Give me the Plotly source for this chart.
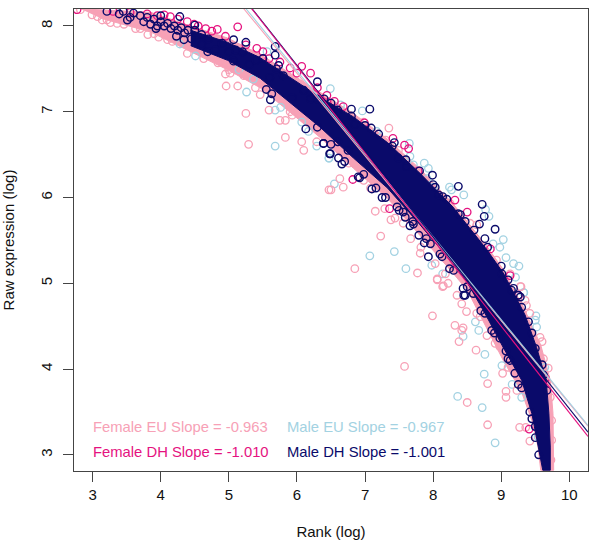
import numpy as np
import plotly.graph_objects as go

PINK = "#F7A1B6"
BLUE = "#A3D2E2"
MAGENTA = "#E5127F"
NAVY = "#0A0A6A"

x_ticks = [3, 4, 5, 6, 7, 8, 9, 10]
y_ticks = [3, 4, 5, 6, 7, 8]
x_range = [2.726, 10.274]
y_range = [2.811, 8.198]

# slopes and intercepts of the fitted lines
slope_labels = ["Female EU Slope = -0.963", "Male EU Slope = -0.967",
                "Female DH Slope = -1.010", "Male DH Slope = -1.001"]
slopes = {"feu": -0.963, "meu": -0.967, "fdh": -1.010, "mdh": -1.001}
intercepts = {"feu": 13.227, "meu": 13.279, "fdh": 13.59, "mdh": 13.547}

# dense band edges
navy_up_x = [4.44, 4.98, 5.46, 5.95, 6.34, 6.83, 7.33, 7.81, 8.29, 8.79, 9.03, 9.35, 9.52, 9.66, 9.70, 9.72, 9.72]
navy_up_y = [7.95, 7.81, 7.63, 7.37, 7.17, 6.94, 6.64, 6.28, 5.89, 5.39, 5.12, 4.63, 4.25, 3.87, 3.48, 3.09, 2.82]
navy_lo_x = [4.44, 4.98, 5.46, 5.95, 6.34, 6.83, 7.33, 7.81, 8.29, 8.50, 8.76, 9.03, 9.30, 9.45, 9.54, 9.61]
navy_lo_y = [7.77, 7.60, 7.39, 7.07, 6.82, 6.46, 6.11, 5.68, 5.23, 5.01, 4.65, 4.25, 3.87, 3.48, 3.09, 2.82]
pink_up_x = [2.82, 3.85, 4.44, 4.98, 5.46, 5.95, 6.34, 6.83, 7.33, 7.81, 8.29, 8.79, 9.03, 9.35, 9.58, 9.72, 9.76, 9.77, 9.77]
pink_up_y = [8.20, 8.16, 8.00, 7.86, 7.67, 7.42, 7.22, 6.98, 6.68, 6.33, 5.93, 5.43, 5.16, 4.68, 4.28, 3.87, 3.48, 3.09, 2.82]
pink_lo_x = [3.12, 3.85, 4.44, 4.98, 5.46, 5.95, 6.34, 6.83, 7.33, 7.81, 8.29, 8.50, 8.76, 9.03, 9.30, 9.45, 9.54, 9.58]
pink_lo_y = [8.09, 7.93, 7.70, 7.49, 7.28, 6.96, 6.70, 6.34, 5.99, 5.56, 5.12, 4.92, 4.51, 4.10, 3.73, 3.40, 3.09, 2.82]

# individual points
feu_x = [4.96, 5.13, 4.95, 5.02, 5.25, 5.29, 5.59, 5.75, 5.83, 5.83, 6.07, 6.10, 5.46, 5.39, 4.39, 3.81, 3.63, 3.26, 3.14, 2.99, 2.82, 6.47, 6.29, 5.90, 5.93, 4.84, 5.00, 5.22, 4.10, 3.97, 4.17, 3.36, 3.46, 3.07, 3.21, 3.70, 3.90, 4.63, 4.73, 4.93,
         7.35, 6.63, 6.50, 6.68, 7.15, 7.23, 6.85, 7.77, 7.38, 7.44, 7.29, 8.06, 8.14, 8.22, 7.81, 7.67, 7.82, 8.03, 8.18, 8.35, 9.28, 7.08, 6.98, 6.76, 6.42, 6.56, 7.56, 9.13, 8.93, 8.64, 8.54, 8.25, 7.81, 7.49, 7.30, 6.98,
         7.99, 7.58, 8.32, 8.44, 8.42, 8.38, 8.63, 8.80, 8.50, 8.80, 9.07, 9.07, 9.27, 9.36, 9.42, 9.69, 9.60, 9.02, 8.42, 8.49, 8.64, 8.91, 9.10, 9.23, 9.35, 9.42, 9.62, 9.72, 9.74, 9.74, 9.73, 9.57, 9.37, 9.29, 8.15, 8.06, 8.79, 8.69, 8.98]
feu_y = [7.30, 7.30, 7.44, 7.45, 6.98, 6.62, 7.02, 6.90, 6.90, 6.70, 6.65, 6.55, 7.20, 7.28, 7.68, 7.90, 7.97, 8.04, 8.07, 8.13, 8.19, 6.09, 6.65, 7.00, 6.96, 7.57, 7.49, 7.42, 7.84, 7.87, 7.82, 8.03, 8.02, 8.11, 8.07, 7.97, 7.91, 7.62, 7.66, 7.58,
         6.81, 6.22, 6.09, 6.12, 5.84, 5.55, 5.17, 5.12, 5.74, 5.76, 5.87, 5.05, 4.96, 5.00, 5.35, 5.52, 5.42, 5.23, 5.11, 4.86, 4.96, 6.11, 6.20, 6.40, 6.77, 6.63, 5.70, 5.11, 5.27, 5.68, 5.70, 5.93, 6.26, 6.55, 6.67, 6.88,
         4.62, 4.03, 4.51, 4.48, 4.45, 4.32, 4.22, 3.83, 3.61, 3.35, 3.74, 3.67, 3.32, 3.32, 3.16, 4.01, 4.32, 3.95, 4.76, 4.67, 4.65, 4.30, 4.02, 3.75, 4.80, 4.65, 4.12, 3.67, 3.40, 3.17, 2.94, 4.37, 4.74, 4.96, 4.97, 5.04, 4.39, 4.61, 4.26]

meu_x = [5.26, 5.68, 5.76, 5.68, 4.51, 4.28, 5.15, 5.36, 6.07, 6.17, 6.29, 6.47, 5.56, 6.49,
         6.96, 7.17, 7.65, 7.66, 7.87, 7.93, 8.24, 8.45, 8.77, 8.82, 9.03, 8.98, 9.07, 9.18, 9.26, 9.21, 9.33, 6.55, 6.47, 7.07, 7.43, 7.60, 8.14, 7.98, 8.00, 7.71, 7.91, 8.88, 8.27, 6.64,
         8.62, 8.67, 8.44, 8.76, 9.01, 8.75, 9.16, 8.36, 8.72, 8.91, 9.30, 9.51, 9.52, 9.33, 9.54, 9.50, 9.64]
meu_y = [7.23, 6.60, 7.05, 7.02, 7.65, 7.79, 7.49, 7.38, 6.88, 6.77, 6.60, 6.46, 7.70, 7.27,
         7.01, 6.77, 6.63, 6.48, 6.40, 6.34, 6.12, 6.03, 5.86, 5.78, 5.51, 5.42, 5.30, 5.23, 5.20, 5.07, 4.89, 6.16, 6.46, 5.32, 5.37, 5.17, 5.11, 5.21, 6.12, 6.38, 6.22, 5.46, 6.09, 7.08,
         4.55, 4.45, 4.38, 4.17, 4.04, 3.94, 3.82, 3.68, 3.55, 3.14, 3.67, 4.62, 4.49, 4.89, 3.21, 4.57, 4.02]

fdh_x = [5.13, 4.83, 6.07, 6.20, 5.90, 5.41, 4.66, 4.49, 4.39, 4.14, 4.05, 2.77, 6.44, 5.59,
         6.68, 6.99, 7.41, 7.58, 7.64, 7.78, 8.32, 8.50, 6.82, 7.36, 9.25, 9.13, 8.84, 9.41, 9.65,
         3.30, 3.55, 3.80, 3.95, 4.25, 4.55, 4.75, 4.95, 5.25, 5.50, 5.75, 6.00, 6.30, 6.55]
fdh_y = [7.99, 7.96, 7.53, 7.45, 7.51, 7.74, 7.97, 8.02, 8.05, 8.11, 8.13, 8.19, 7.19, 7.62,
         7.06, 6.87, 6.69, 6.61, 6.57, 6.31, 5.97, 5.83, 6.21, 5.87, 4.86, 5.09, 5.40, 3.30, 3.89,
         8.17, 8.16, 8.14, 8.12, 8.08, 8.00, 7.94, 7.88, 7.78, 7.70, 7.58, 7.45, 7.28, 7.12]

mdh_x = [4.28, 3.21, 3.39, 3.51, 3.93, 4.23, 4.34, 4.69, 5.07, 5.07, 5.25, 5.68, 5.68, 5.73, 5.55, 5.63, 5.61, 6.13, 6.30, 6.39, 6.48, 5.93, 4.50,
         7.07, 6.80, 7.09, 7.43, 7.99, 8.37, 8.14, 8.72, 8.75, 8.91, 8.68, 8.76, 6.39, 6.49, 6.66, 6.92, 7.16, 7.25, 7.59, 7.66, 7.79, 7.87, 7.93, 8.24, 8.45, 8.44, 6.61, 6.98, 7.47, 7.96, 7.56, 7.71, 8.13, 8.59, 7.49, 7.61, 8.03, 8.08, 8.37, 8.47, 9.01, 9.15, 9.25,
         9.07, 9.25, 9.42, 9.55, 8.47, 8.76, 8.86, 8.98, 9.18, 9.28, 9.40, 9.50, 9.62, 9.13, 9.50, 9.20,
         3.45, 3.60, 3.70, 3.80, 3.90, 4.00, 4.05, 4.10, 4.15, 4.20, 4.25, 4.30, 4.35, 4.40, 3.75, 3.85, 3.95, 3.55, 4.00, 4.45, 4.50, 4.60, 4.60, 4.70, 4.80, 4.90, 5.00, 5.10, 5.20, 5.30, 5.40, 5.50, 5.60, 5.70, 5.80, 6.10, 6.20, 6.30, 6.50, 6.60, 6.75, 6.85,
         6.40, 6.60, 6.80, 7.00, 7.20, 7.40, 7.60, 7.80, 8.00, 8.20, 8.40, 8.60, 8.80, 9.00, 9.10, 9.30, 9.45, 9.60, 9.67,
         6.30, 6.50, 6.70, 6.90, 7.10, 7.30, 7.50, 7.70, 7.90, 8.10, 8.30, 8.50, 8.70, 8.90, 9.10, 9.30, 9.45, 9.50]
mdh_y = [8.11, 8.17, 8.14, 8.07, 7.97, 7.88, 7.84, 7.70, 7.59, 7.84, 7.81, 7.76, 7.66, 7.54, 7.26, 7.21, 7.14, 6.80, 7.35, 6.63, 6.51, 7.16, 8.01,
         7.03, 7.03, 6.81, 6.64, 6.26, 6.13, 6.01, 5.92, 5.78, 5.63, 5.69, 5.52, 6.63, 6.51, 6.39, 6.23, 6.11, 6.00, 5.77, 5.67, 5.56, 5.47, 5.31, 5.17, 4.86, 4.94, 6.46, 6.27, 5.89, 5.46, 5.83, 5.69, 5.31, 4.88, 6.46, 6.36, 6.12, 6.03, 5.81, 5.72, 5.11, 4.92, 4.86,
         4.21, 3.82, 3.50, 3.00, 4.86, 4.65, 4.45, 4.36, 4.94, 4.84, 4.55, 4.24, 3.93, 4.10, 3.33, 3.95,
         8.17, 8.15, 8.12, 8.10, 8.08, 8.05, 8.00, 8.03, 7.97, 8.00, 7.95, 7.98, 7.92, 7.95, 8.05, 8.02, 8.00, 8.10, 8.12, 7.85, 7.95, 7.90, 7.78, 7.85, 7.72, 7.80, 7.70, 7.72, 7.70, 7.55, 7.60, 7.62, 7.40, 7.50, 7.42, 7.25, 7.15, 7.15, 7.10, 6.65, 6.55, 6.85,
         7.15, 7.02, 6.95, 6.84, 6.74, 6.60, 6.44, 6.31, 6.15, 5.98, 5.80, 5.62, 5.42, 5.20, 5.04, 4.72, 4.42, 4.05, 3.75,
         6.82, 6.62, 6.42, 6.24, 6.10, 6.00, 5.85, 5.72, 5.52, 5.34, 5.15, 4.96, 4.68, 4.42, 4.12, 3.78, 3.42, 3.20]


def band(up_x, up_y, lo_x, lo_y, color):
    return go.Scatter(x=list(up_x) + list(lo_x)[::-1], y=list(up_y) + list(lo_y)[::-1],
                      mode="lines", fill="toself", fillcolor=color,
                      line=dict(color=color, width=1), hoverinfo="skip", showlegend=False)


def circles(x, y, color, width=1.3):
    return go.Scatter(x=x, y=y, mode="markers", showlegend=False,
                      marker=dict(symbol="circle-open", size=7.5, color=color,
                                  line=dict(color=color, width=width)))


def fit(key, color):
    xs = np.array(x_range)
    return go.Scatter(x=xs, y=intercepts[key] + slopes[key] * xs, mode="lines",
                      line=dict(color=color, width=1.1), hoverinfo="skip", showlegend=False)


fig = go.Figure()
fig.add_trace(band(pink_up_x, pink_up_y, pink_lo_x, pink_lo_y, PINK))
fig.add_trace(circles(meu_x, meu_y, BLUE))
fig.add_trace(circles(feu_x, feu_y, PINK))
fig.add_trace(circles(fdh_x, fdh_y, MAGENTA))
fig.add_trace(band(navy_up_x, navy_up_y, navy_lo_x, navy_lo_y, NAVY))
fig.add_trace(circles(mdh_x, mdh_y, NAVY, 1.4))
fig.add_trace(fit("feu", PINK))
fig.add_trace(fit("meu", BLUE))
fig.add_trace(fit("mdh", "#0A0A6A"))
fig.add_trace(fit("fdh", MAGENTA))

label_font = "Liberation Sans, Arial, sans-serif"
for text, color, x, y in [(slope_labels[0], PINK, 2.98, 3.32), (slope_labels[1], BLUE, 5.83, 3.32),
                          (slope_labels[2], MAGENTA, 2.98, 3.03), (slope_labels[3], NAVY, 5.83, 3.03)]:
    fig.add_annotation(x=x, y=y, text=text, showarrow=False, xanchor="left", yanchor="middle",
                       font=dict(family=label_font, size=14.8, color=color))

axis_style = dict(showgrid=False, zeroline=False, showline=True, mirror=True, linecolor="#444444",
                  linewidth=1.2, ticks="outside", ticklen=10, tickcolor="#444444", tickwidth=1.2,
                  tickfont=dict(family=label_font, size=15, color="#111111"))
fig.update_xaxes(range=x_range, tickvals=x_ticks, ticktext=[str(v) for v in x_ticks],
                 title=dict(text="Rank (log)", font=dict(family=label_font, size=15, color="#111111"), standoff=24),
                 **axis_style)
fig.update_yaxes(range=y_range, tickvals=y_ticks, ticktext=[str(v) for v in y_ticks], tickangle=-90,
                 ticklabelstandoff=5,
                 title=dict(text="Raw expression (log)", font=dict(family=label_font, size=15, color="#111111"), standoff=24),
                 **axis_style)
fig.update_layout(width=600, height=547, margin=dict(l=73.5, r=12, t=9, b=76, autoexpand=False),
                  paper_bgcolor="white", plot_bgcolor="white", showlegend=False)
fig.write_html("out.html", post_script="document.body.style.margin='0';",
               config={"displayModeBar": False})
